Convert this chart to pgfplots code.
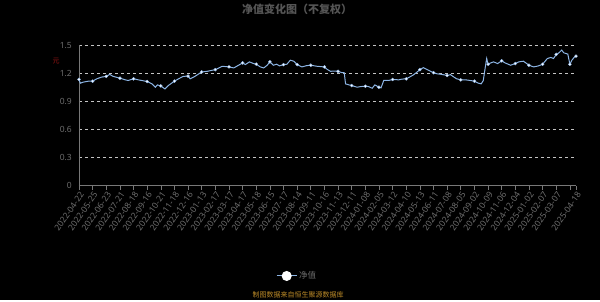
\documentclass[border=0pt]{standalone}
\usepackage{pgfplots}
\pgfplotsset{compat=1.18}
\usepackage{fontspec}
\setmainfont{Noto Sans}
\newfontfamily\cjk{Noto Sans CJK SC}
\definecolor{linec}{RGB}{140,180,228}
\definecolor{tickc}{RGB}{110,110,110}
\definecolor{axisc}{RGB}{120,120,120}
\definecolor{gridc}{RGB}{195,195,195}
\definecolor{titlec}{RGB}{85,85,85}
\definecolor{footc}{RGB}{190,140,40}
\definecolor{unitc}{RGB}{150,20,20}
\begin{document}
\begin{tikzpicture}[x=1pt,y=1pt]
\fill[black] (0,0) rectangle (600,300);
\begin{axis}[
  at={(79pt,114.3pt)}, anchor=south west, scale only axis,
  width=497pt, height=140.4pt,
  xmin=0, xmax=729, ymin=0, ymax=1.5,
  axis x line*=bottom, axis y line*=left,
  axis line style={axisc, line width=0.6pt},
  ytick={0,0.3,0.6,0.9,1.2,1.5},
  yticklabels={0,0.3,0.6,0.9,1.2,1.5},
  ytick style={draw=none},
  ymajorgrids, grid style={gridc, dashed, dash pattern=on 3pt off 3pt, line width=0.6pt},
  xtick={0,20,40,60,80,100,120,140,160,180,200,220,240,260,280,300,320,340,360,380,400,420,440,460,480,500,520,540,560,580,600,620,640,660,680,700,720,729},
  xticklabels={2022-04-22,2022-05-25,2022-06-23,2022-07-21,2022-08-18,2022-09-16,2022-10-21,2022-11-18,2022-12-16,2023-01-13,2023-02-17,2023-03-17,2023-04-17,2023-05-18,2023-06-15,2023-07-17,2023-08-14,2023-09-11,2023-10-16,2023-11-13,2023-12-11,2024-01-08,2024-02-05,2024-03-12,2024-04-10,2024-05-13,2024-06-11,2024-07-08,2024-08-05,2024-09-02,2024-10-09,2024-11-06,2024-12-04,2025-01-02,2025-02-07,2025-03-07,{},2025-04-18},
  tick align=outside, major tick length=4pt,
  xtick style={axisc, line width=0.6pt},
  tick label style={font=\fontsize{8.5}{9}\selectfont, text=tickc},
  x tick label style={rotate=55, anchor=north east, inner sep=1pt},
  y tick label style={inner sep=3pt},
  legend style={at={(0.439,-0.643)}, anchor=center, draw=none, fill=none, text=tickc, font=\cjk\fontsize{8.5}{9}\selectfont},
  legend image code/.code={\draw[linec, line width=1pt] (0pt,0pt) -- (20pt,0pt); \fill[white] (10pt,0pt) circle (4.5pt);},
]
\addplot[linec, line width=1pt, no marks] coordinates {
(0,1.135)(2,1.095)(6,1.106)(14,1.117)(20,1.117)(26,1.142)(33,1.160)(40,1.168)(45,1.189)(50,1.168)(60,1.149)(68,1.131)(72,1.124)(80,1.142)(87,1.131)(100,1.113)(107,1.088)(112,1.052)(115,1.077)(120,1.066)(126,1.034)(131,1.070)(140,1.117)(146,1.142)(153,1.168)(160,1.171)(163,1.142)(170,1.168)(180,1.215)(188,1.222)(200,1.240)(210,1.276)(220,1.269)(227,1.258)(234,1.287)(240,1.312)(244,1.294)(250,1.323)(256,1.305)(260,1.298)(266,1.269)(271,1.258)(276,1.287)(280,1.323)(285,1.287)(290,1.298)(294,1.280)(300,1.294)(305,1.298)(310,1.341)(315,1.330)(320,1.294)(327,1.269)(334,1.283)(340,1.287)(349,1.276)(360,1.269)(364,1.243)(369,1.222)(374,1.225)(380,1.222)(386,1.207)(389,1.207)(391,1.088)(396,1.077)(400,1.070)(408,1.052)(413,1.059)(420,1.063)(425,1.059)(430,1.041)(434,1.077)(440,1.052)(443,1.045)(447,1.124)(454,1.124)(460,1.135)(469,1.131)(474,1.139)(480,1.142)(486,1.165)(491,1.186)(496,1.215)(500,1.240)(505,1.261)(510,1.243)(520,1.207)(525,1.196)(532,1.189)(540,1.178)(545,1.186)(550,1.160)(554,1.142)(560,1.131)(567,1.131)(574,1.124)(580,1.117)(586,1.095)(590,1.088)(593,1.124)(596,1.269)(598,1.359)(600,1.298)(604,1.312)(608,1.323)(614,1.305)(620,1.334)(625,1.312)(633,1.287)(640,1.305)(645,1.323)(652,1.330)(660,1.287)(667,1.269)(674,1.280)(680,1.298)(687,1.359)(692,1.370)(696,1.359)(700,1.402)(704,1.420)(708,1.449)(711,1.420)(717,1.406)(720,1.298)(723,1.341)(727,1.377)(729,1.384)
};
\addlegendentry{净值}
\addplot[only marks, mark=*, mark size=1.5pt, mark options={fill=white, draw=linec, line width=0.4pt}, forget plot] coordinates {
(0,1.135)(20,1.117)(40,1.168)(60,1.149)(80,1.142)(100,1.113)(120,1.066)(140,1.117)(160,1.171)(180,1.215)(200,1.240)(220,1.269)(240,1.312)(260,1.298)(280,1.323)(300,1.294)(320,1.294)(340,1.287)(360,1.269)(380,1.222)(400,1.070)(420,1.063)(440,1.052)(460,1.135)(480,1.142)(500,1.240)(520,1.207)(540,1.178)(560,1.131)(580,1.117)(600,1.298)(620,1.334)(640,1.305)(660,1.287)(680,1.298)(700,1.402)(720,1.298)(729,1.384)
};
\end{axis}
\node[text=titlec, font=\cjk\bfseries\fontsize{11}{12}\selectfont] at (297,291) {净值变化图（不复权）};
\node[text=unitc, font=\cjk\fontsize{7}{7}\selectfont] at (56,239) {元};
\node[text=footc, font=\cjk\fontsize{7}{7}\selectfont] at (298,5.5) {制图数据来自恒生聚源数据库};
\end{tikzpicture}
\end{document}
